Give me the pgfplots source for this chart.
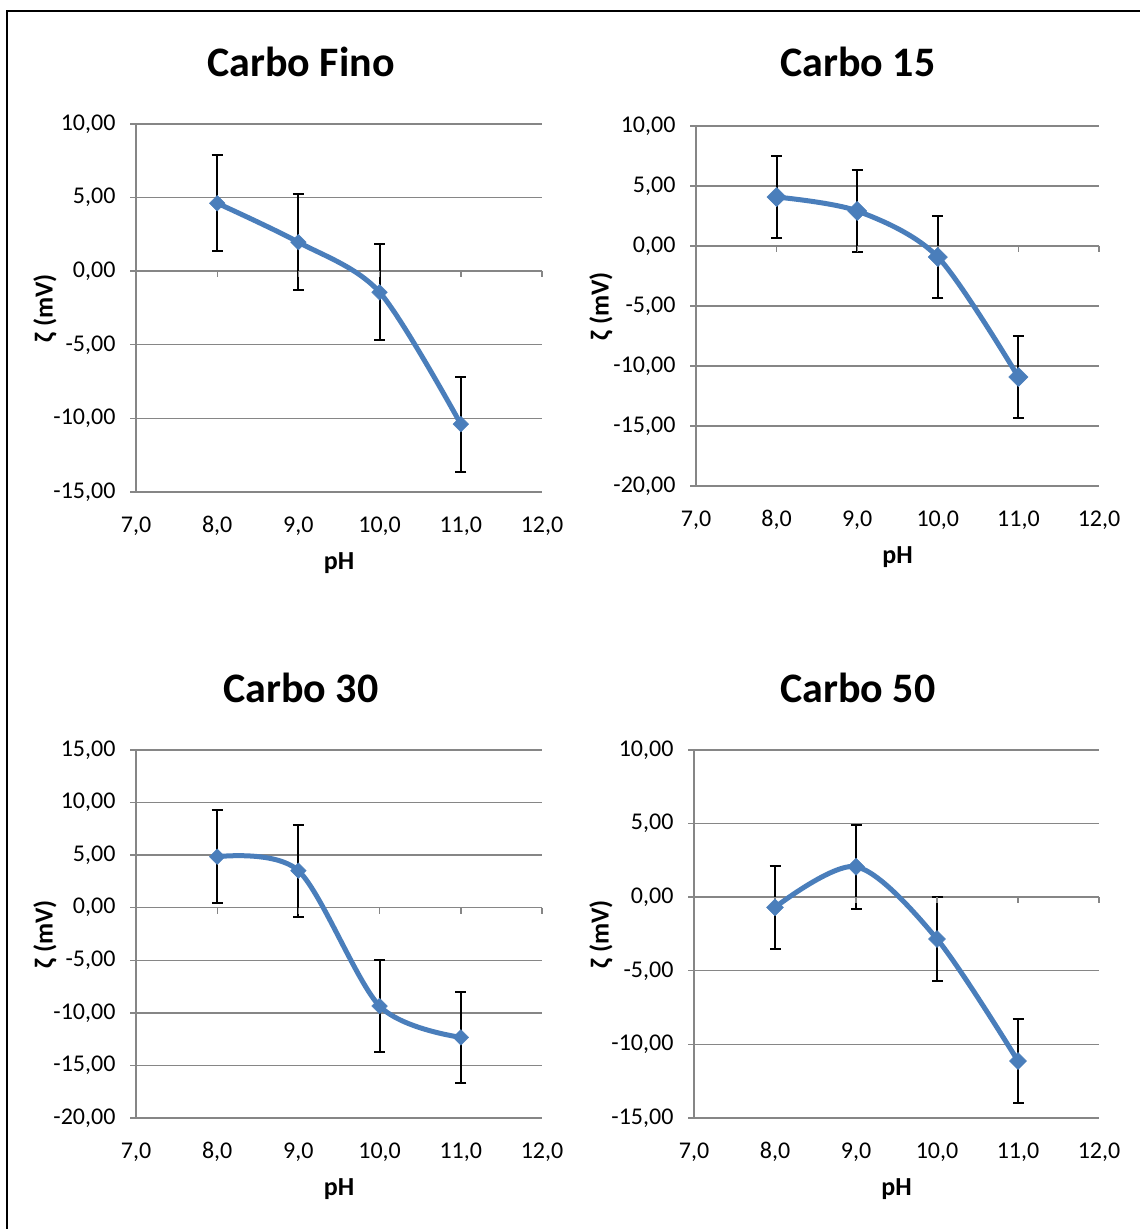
\documentclass[border=0pt]{standalone}
\usepackage{pgfplots}
\pgfplotsset{compat=1.18}
\usepackage{fontspec}
\setmainfont{Carlito}
\definecolor{gridgray}{HTML}{868686}
\definecolor{serblue}{HTML}{4A7EBB}
\pgfplotsset{
  zstyle/.style={
    scale only axis, width=406pt,
    xmin=7, xmax=12, xtick={7,8,9,10,11,12},
    axis lines=left, axis line style={-},
    x axis line style={draw=none},
    y axis line style={draw=gridgray, line width=1.4pt},
    ymajorgrids, grid style={gridgray, line width=1.4pt},
    tick align=outside, major tick length=6pt,
    ytick style={gridgray, line width=1.4pt},
    xtick style={draw=none},
    tick label style={font=\fontsize{24}{28}\selectfont},
    yticklabel style={xshift=-11pt},
    xticklabel style={yshift=-15pt},
    /pgf/number format/assume math mode=true,
    xticklabel={\pgfmathprintnumber[fixed,fixed zerofill,precision=1,use comma]{\tick}},
    yticklabel={\pgfmathprintnumber[fixed,fixed zerofill,precision=2,use comma]{\tick}},
    xlabel={pH}, ylabel={ζ (mV)},
    label style={font=\fontsize{26}{30}\selectfont\bfseries},
    xlabel style={at={(axis description cs:0.5,0)}, anchor=center, yshift=-71pt},
    ylabel style={at={(axis description cs:0,0.5)}, anchor=center, yshift=91pt},
    clip=false,
  },
  ebars/.style={draw=none, mark=none, forget plot,
    error bars/.cd, y dir=both, y explicit,
    error bar style={line width=2pt, black},
    error mark options={rotate=90, mark size=5.5pt, line width=2pt, black}},
  zline/.style={serblue, line width=5pt, smooth, mark=square*,
    mark options={rotate=45, fill=serblue, draw=serblue, line width=0.5pt, solid}},
}
\newcommand{\zeroticks}{%
  \draw[gridgray, line width=1.4pt] (axis cs:8,0) -- ([yshift=-6pt]axis cs:8,0);
  \draw[gridgray, line width=1.4pt] (axis cs:9,0) -- ([yshift=-6pt]axis cs:9,0);
  \draw[gridgray, line width=1.4pt] (axis cs:10,0) -- ([yshift=-6pt]axis cs:10,0);
  \draw[gridgray, line width=1.4pt] (axis cs:11,0) -- ([yshift=-6pt]axis cs:11,0);
  \draw[gridgray, line width=1.4pt] (axis cs:12,0) -- ([yshift=-6pt]axis cs:12,0);
}
\begin{document}
\begin{tikzpicture}
\useasboundingbox (0,0) rectangle (1140pt,1229pt);
\draw[line width=2.2pt] (7pt,1218pt) rectangle (1170pt,-30pt);
% titles
\node[anchor=base, font=\fontsize{42}{50}\selectfont\bfseries] at (301pt,1152pt) {Carbo Fino};
\node[anchor=base, font=\fontsize{42}{50}\selectfont\bfseries] at (858pt,1152pt) {Carbo 15};
\node[anchor=base, font=\fontsize{42}{50}\selectfont\bfseries] at (301pt,526pt) {Carbo 30};
\node[anchor=base, font=\fontsize{42}{50}\selectfont\bfseries] at (858pt,526pt) {Carbo 50};

% Carbo Fino
\begin{axis}[zstyle, height=368pt, anchor=south west, at={(136pt,737pt)},
  ymin=-15, ymax=10, ytick={-15,-10,-5,0,5,10}]
\addplot+[ebars] coordinates {(8,4.62) +- (0,3.26) (9,1.97) +- (0,3.26) (10,-1.43) +- (0,3.26) (11,-10.39) +- (0,3.22)};
\addplot[zline, mark size=5.5pt] coordinates {(8,4.62) (9,1.97) (10,-1.43) (11,-10.39)};
\zeroticks
\end{axis}

% Carbo 15
\begin{axis}[zstyle, height=360pt, anchor=south west, at={(696pt,743pt)}, width=403pt,
  ymin=-20, ymax=10, ytick={-20,-15,-10,-5,0,5,10}, ylabel style={yshift=4pt}]
\addplot+[ebars] coordinates {(8,4.08) +- (0,3.4) (9,2.92) +- (0,3.4) (10,-0.92) +- (0,3.4) (11,-10.92) +- (0,3.4)};
\addplot[zline, mark size=6.8pt] coordinates {(8,4.08) (9,2.92) (10,-0.92) (11,-10.92)};
\zeroticks
\end{axis}

% Carbo 30
\begin{axis}[zstyle, height=368pt, anchor=south west, at={(136pt,111pt)},
  ymin=-20, ymax=15, ytick={-20,-15,-10,-5,0,5,10,15}]
\addplot+[ebars] coordinates {(8,4.85) +- (0,4.4) (9,3.52) +- (0,4.37) (10,-9.35) +- (0,4.4) (11,-12.33) +- (0,4.36)};
\addplot[zline, mark size=5.5pt] coordinates {(8,4.85) (9,3.52) (10,-9.35) (11,-12.33)};
\zeroticks
\end{axis}

% Carbo 50
\begin{axis}[zstyle, height=368pt, anchor=south west, at={(694pt,111pt)}, width=405pt,
  ymin=-15, ymax=10, ytick={-15,-10,-5,0,5,10}, ylabel style={yshift=2pt}]
\addplot+[ebars] coordinates {(8,-0.69) +- (0,2.83) (9,2.07) +- (0,2.85) (10,-2.84) +- (0,2.85) (11,-11.13) +- (0,2.85)};
\addplot[zline, mark size=6pt] coordinates {(8,-0.69) (9,2.07) (10,-2.84) (11,-11.13)};
\zeroticks
\end{axis}
\end{tikzpicture}
\end{document}
